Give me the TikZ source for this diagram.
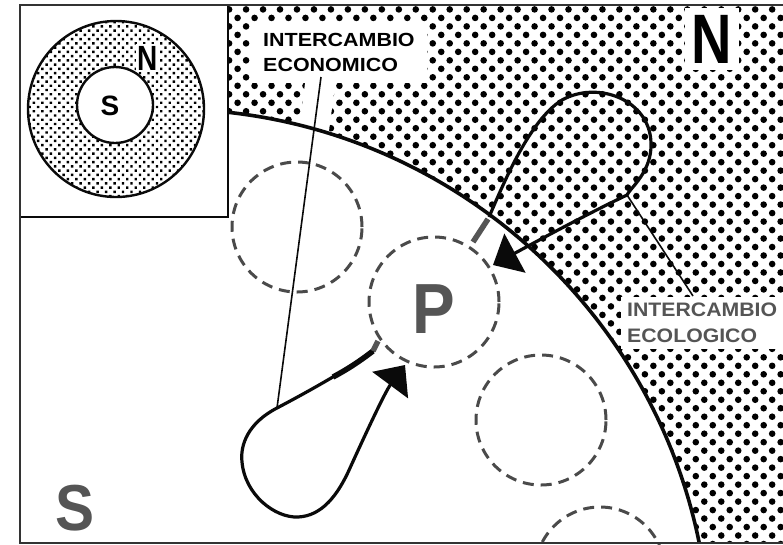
\documentclass[tikz,border=0pt]{standalone}
\usepackage{fontspec}
\setmainfont{Liberation Sans}
\usetikzlibrary{patterns.meta,arrows.meta,calc}
\definecolor{ink}{HTML}{0A0A0A}
\definecolor{greytxt}{HTML}{555555}
\definecolor{dashgrey}{HTML}{4A4A4A}
\begin{document}
\begin{tikzpicture}[x=1pt,y=-1pt,
  dashcirc/.style={circle,draw=dashgrey,line width=3pt,dash pattern=on 11pt off 7pt,minimum size=130pt,inner sep=0pt},
  loopline/.style={draw=ink,line width=3.2pt,-{Triangle[length=25pt,width=44pt]}},
  leader/.style={draw=ink,line width=1.6pt},
  stub/.style={draw=greytxt,line width=5.5pt},
  lbl/.style={align=left,fill=white,anchor=north west},
  bigletter/.style={font=\bfseries\fontsize{#1}{#1}\selectfont,inner sep=0pt,anchor=base},
]
\useasboundingbox (0,0) rectangle (783,544);
\clip (0,0) rectangle (783,544);
% background: dotted N region, white S region
\begin{scope}
  \clip (20,5) rectangle (783,543);
  \fill[pattern={Dots[radius=3.3pt,distance=12pt,angle=45]}] (20,5) rectangle (783,543);
  \fill[white] (168,651) circle[radius=542];
\end{scope}
% labels
\node[lbl,font=\bfseries\fontsize{19}{25}\selectfont,inner xsep=12pt,inner ysep=11pt] (econ) at (251,22)
  {\scalebox{1.13}[1]{INTERCAMBIO}\\\scalebox{1.13}[1]{ECONOMICO}};
\node[lbl,text=greytxt,font=\bfseries\fontsize{19.5}{26}\selectfont,inner xsep=6pt,inner ysep=6pt] (ecol) at (621,297)
  {\scalebox{1.09}[1]{INTERCAMBIO}\\\scalebox{1.09}[1]{ECOLOGICO}};
\node[bigletter=70,fill=white,inner sep=7pt] (bigN) at (712,63) {\scalebox{0.8}[1]{N}};
\node[bigletter=65,text=greytxt] (bigS) at (75,530) {\scalebox{0.9}[1]{S}};
% white halo of the economic leader line
\coordinate (econTop) at (321,77);
\coordinate (econFoot) at (277,408);
\draw[white,line width=30pt] (econTop) -- ($(econTop)!0.34!(econFoot)$);
% boundary between S and N
\begin{scope}
  \clip (20,5) rectangle (783,543);
  \draw[ink,line width=3.6pt] (168,651) circle[radius=542];
\end{scope}
% dashed circles
\node[dashcirc] (d1) at (297,227) {};
\node[dashcirc] (dP) at (434,302) {};
\node[dashcirc] (d3) at (541,420) {};
\node[dashcirc] (d4) at (600,572) {};
\node[bigletter=71,text=greytxt] (bigP) at (434,333) {\scalebox{0.9}[1]{P}};
% economic exchange loop
\draw[loopline] (374,350) .. controls (355,365) and (315,388) .. (econFoot)
  .. controls (248,423) and (240,445) .. (242,462)
  .. controls (245,495) and (275,518) .. (298,517)
  .. controls (322,516) and (338,495) .. (350,468)
  .. controls (365,435) and (385,392) .. (405,365);
\draw[ink,line width=5.5pt] (373,351) .. controls (360,361) and (348,369) .. (333,377);
\draw[stub] (378,341) -- (373,351);
% ecological exchange loop
\coordinate (ecolStart) at (489,217);
\coordinate (ecolFoot) at (627,195);
\coordinate (ecolEnd) at (693,296);
\draw[loopline] (ecolStart) .. controls (505,180) and (530,120) .. (562,100)
  .. controls (598,80) and (650,100) .. (651,143)
  .. controls (652,172) and (630,188) .. (ecolFoot)
  .. controls (585,215) and (530,245) .. (493,265);
\draw[stub] (488,219) -- (473,242);
% leader lines
\draw[leader] (econTop) -- (econFoot);
\draw[leader] (ecolFoot) -- (ecolEnd);
% inset
\draw[ink,line width=2.2pt,fill=white] (20,5) rectangle (228,217);
\fill[pattern={Dots[radius=1.7pt,distance=6pt,angle=45]},even odd rule]
  (116,109) circle[radius=88] (115,105) circle[radius=38];
\draw[ink,line width=2.4pt] (116,109) circle[radius=88];
\draw[ink,line width=2.4pt] (115,105) circle[radius=38];
\node[bigletter=28] (smallS) at (110,115) {S};
\node[bigletter=35,fill=white,inner sep=1.5pt] (smallN) at (148,70) {\scalebox{0.8}[1]{N}};
% frame
\draw[black!80,line width=2.4pt] (800,5) -- (20,5) -- (20,543) -- (800,543);
\end{tikzpicture}
\end{document}
